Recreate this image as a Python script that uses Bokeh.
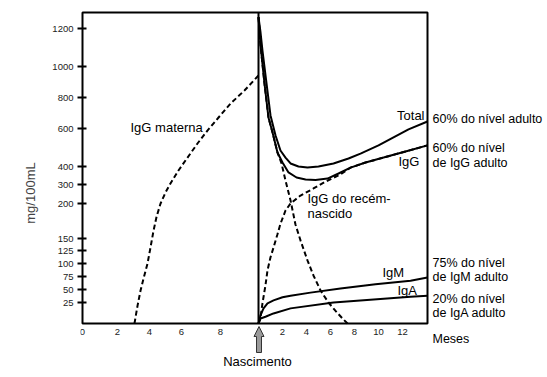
import numpy as np
from bokeh.plotting import figure
from bokeh.models import Range1d, FixedTicker, Label, PolyAnnotation, BoxAnnotation
from bokeh.embed import file_html
from bokeh.resources import INLINE

# ---- axis scales (broken, hand-drawn axis of the original) ----
Y_TICKS = [25, 50, 75, 100, 125, 150, 200, 300, 400, 600, 800, 1000, 1200]
SCALE_VAL = [0] + Y_TICKS + [1400]
SCALE_POS = [0, 21, 34, 47, 60, 73, 85, 120, 139, 157, 195, 226, 257, 295, 333]

PRE_TICKS = [0, 2, 4, 6, 8, 10]          # gestational months (10 = birth)
PRE_TICK_X = [-14.667, -11.75, -9.083, -6.417, -3.167, 0.0]
POST_TICKS = [2, 4, 6, 8, 10, 12]         # months after birth
POST_END = 14.083

# ---- data (mg/100mL) ----
# maternal IgG before birth (gestational month)
mat_pre_g = [3.06, 3.25, 3.44, 3.625, 3.875, 4.06, 4.25, 4.44, 4.69, 5.0, 5.31,
             5.81, 6.31, 6.82, 7.33, 7.90, 8.53, 9.26, 10.0]
mat_pre_v = [0, 21, 48, 71, 100, 131, 161, 181, 200, 258, 306,
             378, 447, 521, 589, 671, 761, 845, 942]

# after birth (months)
total_m = [0, 0.17, 0.33, 0.67, 1.0, 1.42, 1.83, 2.25, 2.67, 3.33, 4.08, 5.0,
           6.25, 7.5, 8.5, 10.0, 11.25, 12.5, 14.08]
total_v = [1260, 1179, 1084, 890, 684, 563, 484, 447, 416, 400, 394, 400,
           416, 442, 468, 511, 553, 595, 645]

igg_m = [0, 0.17, 0.5, 0.83, 1.17, 1.58, 2.0, 2.5, 3.17, 3.92, 4.75, 5.75,
         6.67, 7.67, 8.92, 10.42, 12.25, 14.08]
igg_v = [1260, 1111, 890, 671, 579, 474, 421, 367, 339, 328, 325, 333,
         361, 394, 421, 447, 479, 511]

mat_post_m = [0, 0.17, 0.5, 0.83, 1.17, 1.58, 1.92, 2.25, 2.67, 3.08, 3.5, 4.08,
              4.58, 5.17, 5.83, 6.42, 7.0, 7.42]
mat_post_v = [1260, 1111, 890, 671, 579, 474, 416, 322, 216, 170, 146, 106,
              77, 48, 25, 15, 6, 0]

newborn_m = [0, 0.17, 0.33, 0.58, 0.75, 1.0, 1.25, 1.58, 1.83, 2.25, 2.67, 3.5,
             4.58, 5.58, 6.83, 7.67, 8.92, 10.42, 12.25, 14.08]
newborn_v = [0, 7, 24, 58, 87, 112, 131, 156, 171, 190, 200, 242,
             279, 316, 356, 394, 421, 447, 479, 511]

igm_m = [0, 0.17, 0.42, 0.75, 1.25, 2.0, 2.67, 4.33, 6.83, 9.75, 12.67, 14.08]
igm_v = [0, 10, 18, 24, 29, 35, 38, 44, 52, 60, 67, 73]

iga_m = [0, 0.17, 0.58, 1.25, 2.67, 6.25, 12.67, 14.08]
iga_v = [0, 6, 8, 12, 18, 25, 36, 38]


def ys(v):
    return np.interp(v, SCALE_VAL, SCALE_POS)


def xpre(g):
    return np.interp(g, PRE_TICKS, PRE_TICK_X)


FONT = "Liberation Sans"
W, H = 545, 375
LEFT, TOP = 80, 10
x0 = PRE_TICK_X[0] - 2 / 12.0
y1 = 313
p = figure(width=W, height=H, output_backend="svg", toolbar_location=None,
           x_range=Range1d(x0, x0 + (W - LEFT) / 12.0),
           y_range=Range1d(y1 - (H - TOP), y1),
           min_border_left=LEFT, min_border_right=0, min_border_top=TOP,
           min_border_bottom=0)
p.grid.visible = False
p.outline_line_color = None
p.background_fill_color = "white"
p.border_fill_color = "white"

# plot box
p.add_layout(BoxAnnotation(left=PRE_TICK_X[0], right=POST_END, bottom=0, top=float(ys(1284)),
                           fill_alpha=0, line_color="black", line_alpha=1.0, line_width=2))

# axes
p.yaxis.ticker = FixedTicker(ticks=[float(v) for v in ys(Y_TICKS)])
p.yaxis.major_label_overrides = {float(y): str(v) for y, v in zip(ys(Y_TICKS), Y_TICKS)}
p.yaxis.axis_label = "mg/100mL"
p.yaxis.axis_label_text_font = FONT
p.yaxis.axis_label_text_font_size = "13px"
p.yaxis.axis_label_text_font_style = "normal"
p.yaxis.axis_label_standoff = 11
p.yaxis.major_tick_out = 3
p.yaxis.major_tick_in = 6
p.yaxis.major_tick_line_width = 2
p.yaxis.minor_tick_line_color = None
p.yaxis.axis_line_color = None
p.yaxis.major_label_standoff = 4

xt = PRE_TICK_X[:-1] + POST_TICKS
p.xaxis.ticker = FixedTicker(ticks=[float(t) for t in xt])
over = {float(x): str(g) for x, g in zip(PRE_TICK_X[:-1], PRE_TICKS[:-1])}
over.update({float(m): str(m) for m in POST_TICKS})
p.xaxis.major_label_overrides = over
p.xaxis.fixed_location = 0
p.xaxis.major_tick_out = 0
p.xaxis.major_tick_in = 0
p.xaxis.minor_tick_line_color = None
p.xaxis.axis_line_color = None
p.xaxis.major_label_standoff = 5

for ax in (p.xaxis, p.yaxis):
    ax.major_label_text_font = FONT
    ax.major_label_text_font_size = "9.5px"
    ax.major_label_text_color = "#222222"

# birth line
p.segment(x0=[0], y0=[0], x1=[0], y1=[float(ys(1284))], line_color="black", line_width=2)

DASH = "5 3"
p.line(xpre(mat_pre_g), ys(mat_pre_v), line_color="black", line_width=2, line_dash=DASH)
p.line(mat_post_m, ys(mat_post_v), line_color="black", line_width=2, line_dash=DASH)
p.line(newborn_m, ys(newborn_v), line_color="black", line_width=2, line_dash=DASH)
p.line(total_m, ys(total_v), line_color="black", line_width=2)
p.line(igg_m, ys(igg_v), line_color="black", line_width=2)
p.line(igm_m, ys(igm_v), line_color="black", line_width=2)
p.line(iga_m, ys(iga_v), line_color="black", line_width=2)


def px(xp):
    return (xp - 258) / 12.0


def py(yp):
    return 323 - yp


def lab(text, xp, yp, align="left", size="13px"):
    p.add_layout(Label(x=px(xp), y=py(yp), text=text, text_font=FONT,
                       text_font_size=size, text_align=align,
                       text_baseline="middle", text_color="black"))


lab("IgG materna", 130, 127)
lab("Total", 424, 115, "right")
lab("IgG", 398, 161)
lab("IgG do recém-", 307, 198)
lab("nascido", 307, 213)
lab("IgM", 382, 272)
lab("IgA", 397, 290)
RS = "12.5px"
lab("60% do nível adulto", 432, 118, size=RS)
lab("60% do nível", 432, 147, size=RS)
lab("de IgG adulto", 432, 162, size=RS)
lab("75% do nível", 432, 262, size=RS)
lab("de IgM adulto", 432, 276, size=RS)
lab("20% do nível", 432, 298, size=RS)
lab("de IgA adulto", 432, 312, size=RS)
lab("Meses", 432, 338, size=RS)
lab("Nascimento", 257, 361, "center")

# birth arrow
arrow_xp = [258.5, 263.5, 261, 261, 256, 256, 253.5]
arrow_yp = [326, 336, 336, 352, 352, 336, 336]
p.add_layout(PolyAnnotation(xs=[px(v) for v in arrow_xp], ys=[py(v) for v in arrow_yp],
                            fill_color="#9a9a9a", fill_alpha=1.0,
                            line_color="#333333", line_alpha=1.0, line_width=1))

open("out.html", "w").write(file_html(p, INLINE))
